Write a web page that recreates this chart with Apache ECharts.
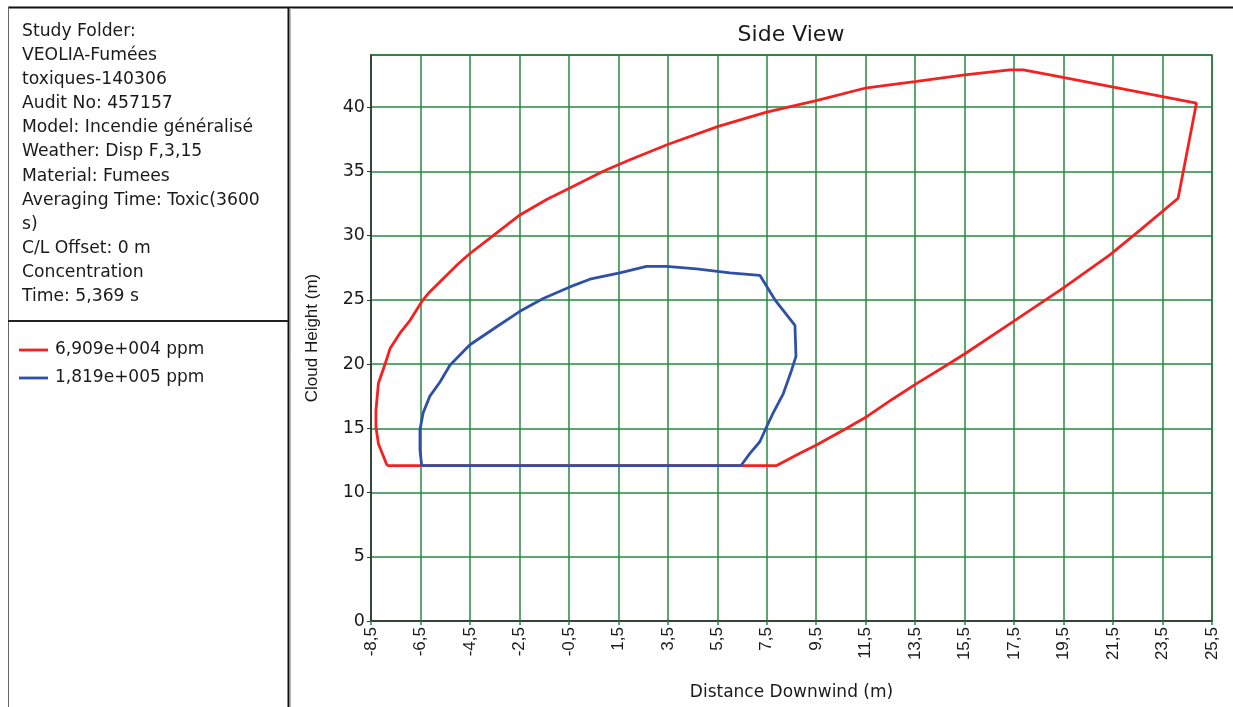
<!DOCTYPE html>
<html>
<head>
<meta charset="utf-8">
<script src="https://cdn.jsdelivr.net/npm/echarts@6/dist/echarts.min.js"></script>
<style>
html,body{margin:0;padding:0;background:#fff;}
#chart{width:1233px;height:707px;}
</style>
</head>
<body>
<div id="chart"></div>
<script>
// ---- data ----
const infoLines = [
  'Study Folder:',
  'VEOLIA-Fumées',
  'toxiques-140306',
  'Audit No: 457157',
  'Model: Incendie généralisé',
  'Weather: Disp F,3,15',
  'Material: Fumees',
  'Averaging Time: Toxic(3600',
  's)',
  'C/L Offset: 0 m',
  'Concentration',
  'Time: 5,369 s'
];
const seriesNames = ['6,909e+004 ppm', '1,819e+005 ppm'];

const redX = [-7.85, -8.2, -8.3, -8.3, -8.2, -7.93, -7.73, -7.33, -6.92, -6.45, -6.18, -4.97, -4.5, -3.56, -2.48, -1.4, -0.46, 0.89, 1.97, 3.52, 5.54, 7.49, 9.5, 11.54, 13.56, 15.5, 17.33, 17.87, 18.95, 24.87, 24.13, 22.58, 21.37, 19.48, 17.46, 15.51, 14.77, 13.49, 12.61, 11.54, 10.73, 9.51, 8.84, 7.9, -7.85];
const redY = [12.1, 13.8, 15.1, 16.4, 18.5, 20.0, 21.2, 22.4, 23.4, 24.85, 25.5, 27.8, 28.6, 30.0, 31.6, 32.8, 33.7, 35.0, 35.9, 37.1, 38.5, 39.6, 40.5, 41.5, 42.0, 42.5, 42.9, 42.9, 42.5, 40.3, 32.9, 30.4, 28.5, 25.9, 23.3, 20.8, 19.9, 18.4, 17.3, 15.9, 15.0, 13.7, 13.05, 12.1, 12.1];

const blueX = [-6.45, -6.52, -6.52, -6.39, -6.12, -5.71, -5.31, -4.5, -3.42, -2.48, -1.54, -0.46, 0.35, 1.56, 2.64, 3.45, 4.66, 6.01, 7.22, 7.83, 8.64, 8.68, 8.5, 8.17, 7.76, 7.49, 7.22, 6.82, 6.46, -6.45];
const blueY = [12.1, 13.3, 14.9, 16.2, 17.5, 18.6, 19.9, 21.5, 22.9, 24.1, 25.1, 26.0, 26.6, 27.1, 27.6, 27.6, 27.4, 27.1, 26.9, 25.0, 23.0, 20.6, 19.5, 17.7, 16.2, 15.1, 13.95, 13.05, 12.1, 12.1];

const xMin = -8.5, xMax = 25.5, xStep = 2;
const yMin = 0, yMax = 44.05, yStep = 5;

// ---- build ----
const pairs = (xs, ys) => xs.map((x, i) => [x, ys[i]]);
const chart = echarts.init(document.getElementById('chart'), null, {renderer: 'canvas'});
const FONT = 'DejaVu Sans';
const TXT = '#1a1a1a';
const GREEN = '#26893f';

const graphics = [];
// frame lines
graphics.push({type:'line', shape:{x1:8, y1:7.5, x2:1233, y2:7.5}, style:{stroke:'#111', lineWidth:2}, z:100});
graphics.push({type:'line', shape:{x1:8.5, y1:7, x2:8.5, y2:707}, style:{stroke:'#666', lineWidth:1}, z:100});
graphics.push({type:'line', shape:{x1:288.5, y1:7, x2:288.5, y2:707}, style:{stroke:'#111', lineWidth:2}, z:100});
graphics.push({type:'line', shape:{x1:290.5, y1:8, x2:290.5, y2:707}, style:{stroke:'#bbb', lineWidth:1}, z:100});
graphics.push({type:'line', shape:{x1:8, y1:321, x2:288, y2:321}, style:{stroke:'#222', lineWidth:2}, z:100});
infoLines.forEach((t, i) => {
  graphics.push({type:'text', left:22, top:23 + i*24.1, style:{text:t, font:'17.2px "' + FONT + '"', fill:TXT}, z:100});
});

chart.setOption({
  animation: false,
  backgroundColor: '#fff',
  title: {
    text: 'Side View', left: 786, top: 19, textAlign: 'center',
    textStyle: {fontFamily: FONT, fontSize: 22, fontWeight: 'normal', color: TXT}
  },
  legend: {
    orient: 'vertical', left: 14, top: 335, itemWidth: 29, itemHeight: 14, itemGap: 8,
    icon: 'path://M0,0L29,0L29,2.8L0,2.8Z',
    textStyle: {fontFamily: FONT, fontSize: 17, color: TXT, lineHeight: 20, padding:[0,0,0,2]},
    data: seriesNames
  },
  grid: {left: 371, top: 55, right: 21, bottom: 86, show: true, borderColor: '#333', borderWidth: 1.5, backgroundColor: 'transparent'},
  xAxis: {
    type: 'value', min: xMin, max: xMax, interval: xStep,
    name: 'Distance Downwind (m)', nameLocation: 'middle', nameGap: 63,
    nameTextStyle: {fontFamily: FONT, fontSize: 17, color: TXT},
    axisLine: {show: true, onZero: false, lineStyle: {color: '#333', width: 1.5}},
    axisTick: {show: true, length: 4, lineStyle: {color: GREEN, width: 1.5}},
    axisLabel: {rotate: 90, margin: 6, fontFamily: 'Liberation Sans', fontSize: 17, color: TXT,
      formatter: v => String(+v.toFixed(1)).replace('.', ',')},
    splitLine: {show: true, lineStyle: {color: GREEN, width: 1.5}}
  },
  yAxis: {
    type: 'value', min: yMin, max: yMax, interval: yStep,
    name: 'Cloud Height (m)', nameLocation: 'middle', nameGap: 50, nameRotate: 90,
    nameTextStyle: {fontFamily: 'Liberation Sans', fontSize: 17, color: TXT},
    axisLine: {show: true, onZero: false, lineStyle: {color: '#333', width: 1.5}},
    axisTick: {show: true, length: 4, lineStyle: {color: '#333', width: 1}},
    axisLabel: {margin: 6, fontFamily: FONT, fontSize: 17.5, color: TXT, showMaxLabel: false},
    splitLine: {show: true, lineStyle: {color: GREEN, width: 1.5}}
  },
  series: [
    {name: seriesNames[0], type: 'line', data: pairs(redX, redY), symbol: 'none', showSymbol: false,
     lineStyle: {color: '#f52020', width: 2.8}, itemStyle: {color: '#f52020'}, z: 5},
    {name: seriesNames[1], type: 'line', data: pairs(blueX, blueY), symbol: 'none', showSymbol: false,
     lineStyle: {color: '#2f50a8', width: 2.8}, itemStyle: {color: '#2f50a8'}, z: 6}
  ],
  graphic: graphics
});
</script>
</body>
</html>
